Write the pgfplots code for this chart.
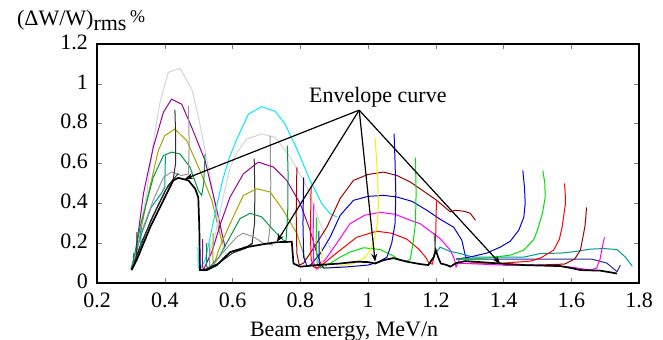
\documentclass[border=0pt]{standalone}
\usepackage{fontspec}
\setmainfont{Liberation Serif}
\usepackage{pgfplots}
\pgfplotsset{compat=1.18}
\usetikzlibrary{arrows.meta}
\definecolor{lgray}{RGB}{212,212,212}
\definecolor{purp}{RGB}{153,0,153}
\definecolor{oliv}{RGB}{165,165,0}
\definecolor{sgreen}{RGB}{0,150,70}
\definecolor{mgray}{RGB}{150,150,150}
\definecolor{dgray}{RGB}{45,45,45}
\definecolor{tealc}{RGB}{0,150,150}
\definecolor{cyanc}{RGB}{0,235,245}
\definecolor{dred}{RGB}{160,0,0}
\definecolor{bluec}{RGB}{0,0,215}
\definecolor{magc}{RGB}{255,0,255}
\definecolor{redc}{RGB}{255,0,0}
\definecolor{greenc}{RGB}{0,225,0}
\definecolor{yelc}{RGB}{245,240,0}
\definecolor{navyc}{RGB}{40,40,170}
\begin{document}
\begin{tikzpicture}
\useasboundingbox (-48.5pt,-28pt) rectangle (283pt,141.5pt);
\begin{axis}[
  at={(0,0)}, anchor=south west,
  scale only axis, width=271pt, height=119.5pt,
  xmin=0.2, xmax=1.8, ymin=0, ymax=1.2,
  xtick={0.2,0.4,0.6,0.8,1,1.2,1.4,1.6,1.8},
  ytick={0,0.2,0.4,0.6,0.8,1,1.2},
  /pgf/number format/assume math mode=true,
  tick label style={font=\fontsize{11}{13}\selectfont},
  yticklabel style={xshift=-1pt, yshift=1pt},
  xticklabel style={yshift=-1.5pt},
  xlabel={Beam energy, MeV/n},
  xlabel style={font=\fontsize{11}{13}\selectfont, at={(ticklabel cs:0.456)}, anchor=near ticklabel, yshift=0pt},
  axis line style={line width=0.6pt},
  major tick length=2.5pt,
  every axis plot/.append style={line width=0.5pt, no markers},
]
% ---------- group 1 ----------
\addplot[lgray] coordinates {(0.300,0.07)(0.32,0.22)(0.347,0.45)(0.366,0.70)(0.385,0.90)(0.41,1.057)(0.445,1.078)(0.48,0.973)(0.50,0.83)(0.519,0.665)(0.54,0.48)(0.554,0.33)(0.57,0.2)(0.585,0.12)};
\addplot[purp] coordinates {(0.302,0.065)(0.31,0.10)(0.337,0.448)(0.366,0.68)(0.396,0.857)(0.42,0.923)(0.45,0.898)(0.48,0.78)(0.519,0.615)(0.554,0.365)(0.578,0.18)};
\addplot[oliv] coordinates {(0.303,0.07)(0.32,0.18)(0.347,0.415)(0.381,0.665)(0.40,0.74)(0.43,0.773)(0.465,0.715)(0.504,0.565)(0.539,0.415)(0.558,0.28)(0.57,0.2)};
\addplot[sgreen] coordinates {(0.303,0.07)(0.327,0.28)(0.366,0.53)(0.396,0.64)(0.42,0.657)(0.445,0.648)(0.475,0.58)(0.499,0.465)(0.509,0.44)(0.515,0.5)(0.519,0.648)};
\addplot[tealc] coordinates {(0.30,0.07)(0.33,0.24)(0.36,0.38)(0.39,0.45)(0.40,0.48)(0.402,0.64)};
\addplot[mgray] coordinates {(0.303,0.07)(0.33,0.25)(0.366,0.415)(0.396,0.53)(0.42,0.557)(0.45,0.54)(0.47,0.548)(0.472,0.7)(0.47,0.89)};
\addplot[dgray] coordinates {(0.303,0.07)(0.36,0.32)(0.40,0.46)(0.425,0.52)(0.432,0.6)(0.432,0.75)(0.43,0.87)};
\addplot[dgray] coordinates {(0.303,0.07)(0.33,0.2)(0.37,0.35)(0.41,0.49)(0.43,0.53)(0.44,0.55)};
% spikes near 0.3
\addplot[sgreen] coordinates {(0.307,0.09)(0.307,0.15)};
\addplot[dgray] coordinates {(0.317,0.12)(0.318,0.256)};
\addplot[tealc] coordinates {(0.329,0.16)(0.330,0.28)};
% ---------- group 2 ----------
\addplot[cyanc] coordinates {(0.498,0.18)(0.499,0.08)(0.504,0.065)(0.52,0.12)(0.534,0.23)(0.555,0.4)(0.573,0.53)(0.593,0.64)(0.613,0.723)(0.647,0.848)(0.686,0.885)(0.726,0.862)(0.755,0.798)(0.79,0.673)(0.829,0.515)(0.864,0.398)(0.888,0.348)(0.908,0.332)};
\addplot[lgray] coordinates {(0.524,0.1)(0.55,0.25)(0.575,0.45)(0.593,0.58)(0.615,0.66)(0.642,0.723)(0.686,0.748)(0.726,0.732)(0.77,0.632)(0.82,0.482)(0.859,0.298)(0.888,0.18)(0.9,0.12)};
\addplot[mgray] coordinates {(0.63,0.18)(0.68,0.19)(0.705,0.2)(0.712,0.3)(0.713,0.5)(0.711,0.74)};
\addplot[purp] coordinates {(0.512,0.22)(0.511,0.09)(0.514,0.065)(0.54,0.16)(0.565,0.3)(0.593,0.432)(0.632,0.548)(0.676,0.607)(0.721,0.582)(0.76,0.515)(0.8,0.398)(0.829,0.265)(0.849,0.148)(0.86,0.1)};
\addplot[dgray] coordinates {(0.6,0.16)(0.64,0.18)(0.658,0.2)(0.665,0.3)(0.666,0.45)(0.664,0.625)};
\addplot[oliv] coordinates {(0.543,0.25)(0.542,0.12)(0.545,0.09)(0.56,0.17)(0.593,0.298)(0.632,0.44)(0.672,0.473)(0.711,0.457)(0.75,0.365)(0.79,0.248)(0.805,0.17)(0.815,0.12)};
\addplot[sgreen] coordinates {(0.524,0.2)(0.523,0.09)(0.527,0.07)(0.56,0.13)(0.593,0.232)(0.622,0.323)(0.652,0.35)(0.686,0.332)(0.721,0.265)(0.75,0.215)(0.758,0.21)(0.763,0.35)(0.764,0.55)(0.762,0.69)};
\addplot[mgray] coordinates {(0.533,0.2)(0.532,0.09)(0.536,0.075)(0.57,0.15)(0.613,0.232)(0.631,0.25)(0.662,0.232)(0.691,0.2)(0.72,0.19)};
\addplot[dgray] coordinates {(0.52,0.07)(0.56,0.1)(0.6,0.15)(0.64,0.175)(0.66,0.2)};
% ---------- group 3 ----------
\addplot[dred] coordinates {(0.79,0.58)(0.788,0.35)(0.79,0.15)(0.797,0.09)(0.81,0.1)(0.845,0.19)(0.879,0.282)(0.918,0.425)(0.957,0.515)(1.0,0.545)(1.046,0.557)(1.085,0.54)(1.125,0.507)(1.165,0.46)(1.203,0.415)(1.243,0.357)(1.258,0.365)(1.285,0.36)(1.302,0.35)(1.317,0.315)};
\addplot[bluec] coordinates {(0.81,0.53)(0.808,0.3)(0.81,0.13)(0.82,0.085)(0.83,0.09)(0.86,0.15)(0.888,0.23)(0.918,0.34)(0.957,0.415)(1.0,0.435)(1.046,0.44)(1.085,0.432)(1.13,0.41)(1.174,0.365)(1.213,0.32)(1.253,0.28)(1.277,0.215)(1.287,0.14)(1.292,0.12)};
\addplot[magc] coordinates {(0.84,0.4)(0.838,0.25)(0.84,0.1)(0.848,0.07)(0.875,0.12)(0.908,0.2)(0.947,0.298)(0.99,0.34)(1.036,0.355)(1.08,0.345)(1.125,0.315)(1.154,0.298)(1.213,0.223)(1.243,0.165)(1.255,0.12)(1.26,0.08)(1.27,0.12)};
\addplot[redc] coordinates {(0.832,0.48)(0.83,0.25)(0.832,0.12)(0.84,0.08)(0.854,0.075)(0.885,0.12)(0.918,0.165)(0.967,0.23)(1.026,0.26)(1.07,0.25)(1.115,0.22)(1.15,0.17)(1.17,0.13)(1.18,0.1)(1.19,0.095)(1.197,0.15)(1.2,0.25)(1.202,0.41)};
\addplot[greenc] coordinates {(0.848,0.33)(0.847,0.2)(0.85,0.1)(0.86,0.075)(0.89,0.1)(0.918,0.13)(0.947,0.155)(0.987,0.177)(1.036,0.168)(1.07,0.14)(1.095,0.115)(1.115,0.11)(1.125,0.12)(1.133,0.2)(1.14,0.3)(1.142,0.45)(1.14,0.63)};
\addplot[yelc] coordinates {(0.862,0.18)(0.865,0.09)(0.88,0.075)(0.92,0.085)(0.96,0.1)(0.99,0.125)(1.005,0.16)(1.016,0.2)(1.028,0.3)(1.031,0.4)(1.028,0.55)(1.021,0.73)};
\addplot[bluec] coordinates {(0.855,0.26)(0.856,0.1)(0.87,0.075)(0.93,0.08)(1.0,0.09)(1.03,0.105)(1.056,0.13)(1.07,0.2)(1.08,0.3)(1.082,0.45)(1.08,0.6)(1.077,0.75)};
% ---------- group 4 ----------
\addplot[tealc] coordinates {(1.195,0.25)(1.2,0.15)(1.213,0.18)(1.24,0.16)(1.272,0.148)(1.31,0.13)(1.46,0.13)(1.509,0.148)(1.568,0.15)(1.607,0.157)(1.656,0.17)(1.696,0.173)(1.735,0.168)(1.76,0.13)(1.78,0.085)};
\addplot[navyc] coordinates {(1.26,0.12)(1.4,0.12)(1.5,0.12)(1.6,0.12)(1.66,0.12)(1.705,0.1)(1.735,0.057)(1.745,0.09)};
\addplot[bluec] coordinates {(1.26,0.12)(1.3,0.13)(1.35,0.15)(1.39,0.18)(1.42,0.21)(1.445,0.265)(1.46,0.33)(1.464,0.4)(1.462,0.48)(1.457,0.565)};
\addplot[greenc] coordinates {(1.26,0.12)(1.35,0.125)(1.42,0.14)(1.46,0.165)(1.49,0.22)(1.5,0.265)(1.515,0.35)(1.523,0.43)(1.522,0.5)(1.516,0.565)};
\addplot[redc] coordinates {(1.3,0.1)(1.4,0.1)(1.48,0.11)(1.509,0.125)(1.548,0.165)(1.565,0.22)(1.573,0.28)(1.583,0.4)(1.582,0.46)(1.58,0.5)};
\addplot[dred] coordinates {(1.4,0.09)(1.5,0.09)(1.58,0.095)(1.61,0.12)(1.627,0.165)(1.64,0.28)(1.643,0.33)(1.645,0.38)};
\addplot[magc] coordinates {(1.26,0.1)(1.4,0.09)(1.509,0.09)(1.6,0.08)(1.656,0.065)(1.675,0.075)(1.685,0.12)(1.69,0.165)(1.698,0.23)};
% ---------- envelope ----------
\addplot[black, line width=0.85pt] coordinates {(0.302,0.065)(0.317,0.115)(0.357,0.28)(0.396,0.415)(0.425,0.515)(0.44,0.528)(0.47,0.515)(0.49,0.473)(0.499,0.43)(0.502,0.28)(0.504,0.065)(0.524,0.065)(0.554,0.09)(0.593,0.155)(0.642,0.18)(0.691,0.195)(0.731,0.205)(0.775,0.207)(0.78,0.098)(0.8,0.082)(0.849,0.09)(0.918,0.098)(0.967,0.107)(1.0,0.105)(1.021,0.098)(1.046,0.115)(1.075,0.125)(1.115,0.107)(1.154,0.095)(1.178,0.09)(1.194,0.13)(1.2,0.165)(1.207,0.13)(1.215,0.098)(1.233,0.09)(1.243,0.082)(1.26,0.1)(1.287,0.11)(1.33,0.105)(1.39,0.098)(1.46,0.09)(1.568,0.085)(1.6,0.075)(1.627,0.065)(1.686,0.062)(1.735,0.048)};
% ---------- annotation ----------
\draw[line width=0.6pt, -{Stealth[length=4pt,width=3pt]}] (axis cs:0.974,0.868) -- (axis cs:0.46,0.523);
\draw[line width=0.6pt, -{Stealth[length=4pt,width=3pt]}] (axis cs:0.974,0.868) -- (axis cs:0.731,0.207);
\draw[line width=0.6pt, -{Stealth[length=4pt,width=3pt]}] (axis cs:0.974,0.868) -- (axis cs:1.021,0.107);
\draw[line width=0.6pt, -{Stealth[length=4pt,width=3pt]}] (axis cs:0.974,0.868) -- (axis cs:1.39,0.098);
\node[font=\fontsize{11}{13}\selectfont] at (axis cs:1.029,0.932) {Envelope curve};
\end{axis}
\node[anchor=base west, font=\fontsize{11}{13}\selectfont] at (-43.5pt,129pt) {(ΔW/W)\raisebox{-0.5ex}{rms}\,\raisebox{0.2ex}{\fontsize{9}{10}\selectfont\%}};
\end{tikzpicture}
\end{document}
